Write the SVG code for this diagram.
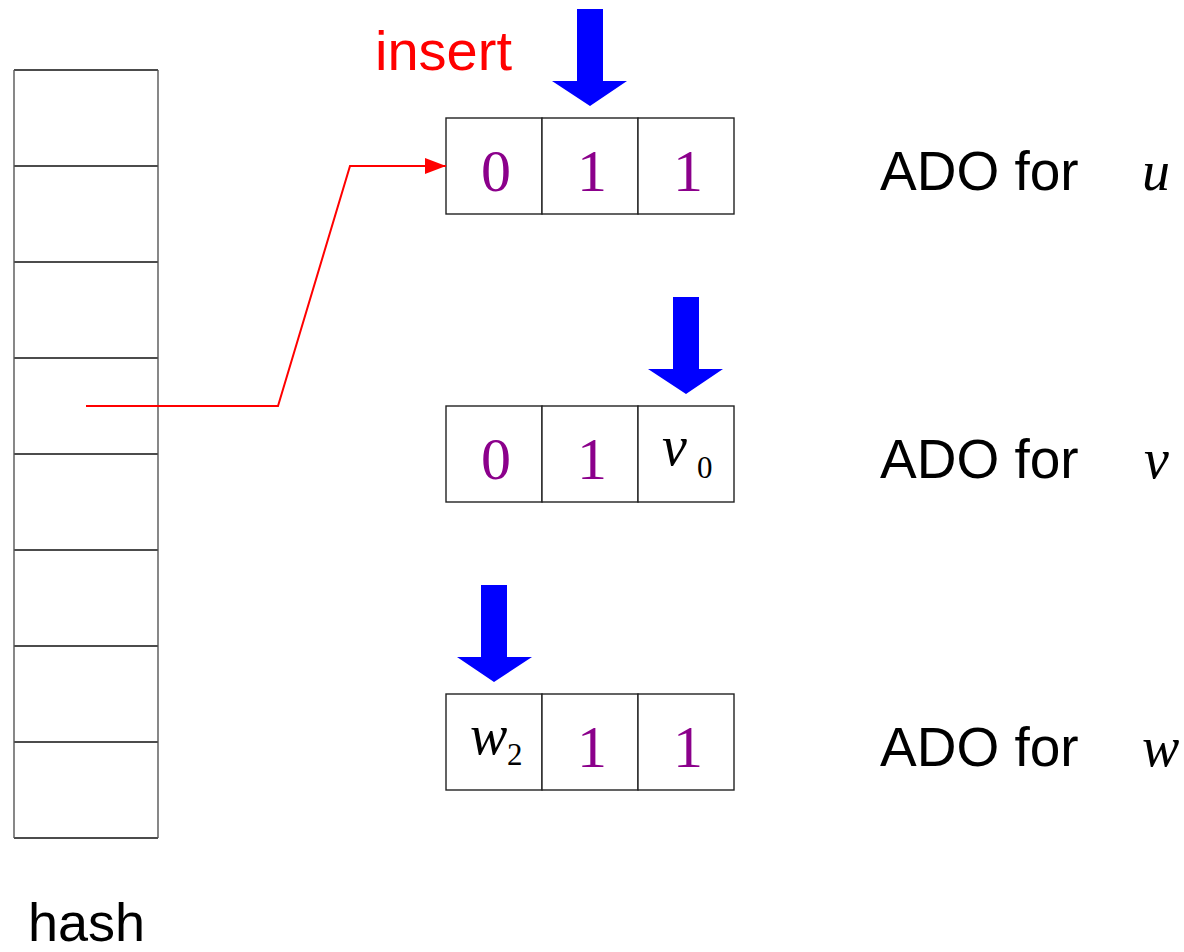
<svg xmlns="http://www.w3.org/2000/svg" width="1184" height="952" viewBox="0 0 1184 952">
<defs>
<style>
.cell{fill:#fff;stroke:#222;stroke-width:1.4}
.hl{stroke:#111;stroke-width:1.4}
.vl{stroke:#555;stroke-width:1.4}
.dig{font-family:"Liberation Serif",serif;font-size:60px;fill:#8B008B;text-anchor:middle}
.var{font-family:"Liberation Serif",serif;font-style:italic;font-size:56px;fill:#000}
.sub{font-family:"Liberation Serif",serif;font-size:31px;fill:#000}
.lbl{font-family:"Liberation Sans",Arial,sans-serif;font-size:55px;fill:#000}
.arr{fill:#0000ff}
</style>
<marker id="ah" viewBox="0 0 21 16" refX="21" refY="8" markerWidth="21" markerHeight="16" markerUnits="userSpaceOnUse" orient="auto">
<path d="M0,0 L21,8 L0,16 z" fill="#ff0000"/>
</marker>
</defs>
<rect width="1184" height="952" fill="#fff"/>

<g id="hash">
<rect x="14" y="70" width="144" height="768" fill="#fff" stroke="none"/>
<line class="hl" x1="14" y1="70" x2="158" y2="70"/>
<line class="hl" x1="14" y1="166" x2="158" y2="166"/>
<line class="hl" x1="14" y1="262" x2="158" y2="262"/>
<line class="hl" x1="14" y1="358" x2="158" y2="358"/>
<line class="hl" x1="14" y1="454" x2="158" y2="454"/>
<line class="hl" x1="14" y1="550" x2="158" y2="550"/>
<line class="hl" x1="14" y1="646" x2="158" y2="646"/>
<line class="hl" x1="14" y1="742" x2="158" y2="742"/>
<line class="hl" x1="14" y1="838" x2="158" y2="838"/>
<line class="vl" x1="14" y1="70" x2="14" y2="838"/>
<line class="vl" x1="158" y1="70" x2="158" y2="838"/>
<text x="28" y="941" font-family="'Liberation Sans',Arial,sans-serif" font-size="54" fill="#000">hash</text>
</g>

<g id="ado-u">
<rect class="cell" x="446" y="118" width="96" height="96"/>
<rect class="cell" x="542" y="118" width="96" height="96"/>
<rect class="cell" x="638" y="118" width="96" height="96"/>
<text class="dig" x="496" y="191">0</text>
<text class="dig" x="592" y="191">1</text>
<text class="dig" x="688" y="191">1</text>
<path class="arr" d="M577,9 H603 V81 H627 L590,106 L552,81 H577 Z"/>
<text x="375" y="70" font-family="'Liberation Sans',Arial,sans-serif" font-size="56" fill="#ff0000">insert</text>
<text class="lbl" x="880" y="190">ADO for</text>
<text class="var" x="1142" y="190">u</text>
</g>

<g id="ado-v">
<rect class="cell" x="446" y="406" width="96" height="96"/>
<rect class="cell" x="542" y="406" width="96" height="96"/>
<rect class="cell" x="638" y="406" width="96" height="96"/>
<text class="dig" x="496" y="479">0</text>
<text class="dig" x="592" y="479">1</text>
<text class="var" x="662" y="465">v</text>
<text class="sub" x="697" y="478">0</text>
<path class="arr" d="M673,297 H699 V369 H723 L686,394 L648,369 H673 Z"/>
<text class="lbl" x="880" y="478">ADO for</text>
<text class="var" x="1144" y="478">v</text>
</g>

<g id="ado-w">
<rect class="cell" x="446" y="694" width="96" height="96"/>
<rect class="cell" x="542" y="694" width="96" height="96"/>
<rect class="cell" x="638" y="694" width="96" height="96"/>
<text class="var" x="470" y="754">w</text>
<text class="sub" x="507" y="765">2</text>
<text class="dig" x="592" y="767">1</text>
<text class="dig" x="688" y="767">1</text>
<path class="arr" d="M481,585 H507 V657 H532 L494,682 L457,657 H481 Z"/>
<text class="lbl" x="880" y="766">ADO for</text>
<text class="var" x="1142" y="766">w</text>
</g>

<g id="connectors">
<polyline points="86,406 278,406 350,166 446,166" fill="none" stroke="#ff0000" stroke-width="2" marker-end="url(#ah)"/>
</g>
</svg>
